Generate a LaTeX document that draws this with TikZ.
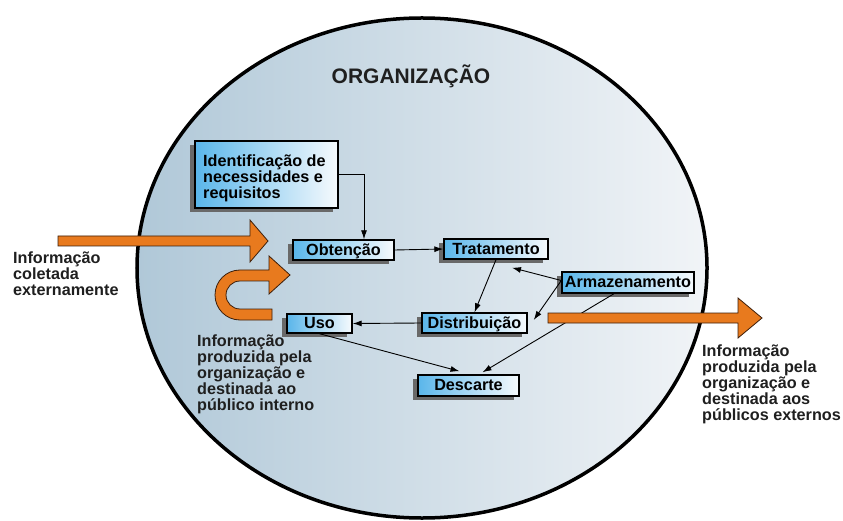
\documentclass[tikz,border=0pt]{standalone}
\usepackage{fontspec}
\setmainfont{Liberation Sans}
\usetikzlibrary{arrows.meta,calc,shadows}

\definecolor{ellL}{RGB}{176,200,216}
\definecolor{ellR}{RGB}{241,244,247}
\definecolor{boxL}{RGB}{90,182,234}
\definecolor{boxR}{RGB}{246,250,253}
\definecolor{orangeF}{RGB}{232,122,30}
\definecolor{orangeD}{RGB}{60,30,10}
\definecolor{shadowC}{RGB}{105,105,105}

\begin{document}
\begin{tikzpicture}[x=1bp,y=-1bp,
  stepbox/.style={draw=black, line width=1.4bp, left color=boxL, right color=boxR,
    inner sep=0pt, font=\fontsize{16.2bp}{16bp}\selectfont\bfseries,
    drop shadow={shadow xshift=-5bp, shadow yshift=-4bp, fill=shadowC, opacity=1}},
  onebox/.style={stepbox, text height=10.8bp, text depth=0bp},
  conn/.style={line width=0.9bp, -{Latex[length=9bp,width=6bp]}},
  orangearrow/.style={fill=orangeF, draw=orangeD, line width=0.8bp, line join=miter},
  sidetext/.style={inner sep=0pt, anchor=north west, align=left,
    font=\fontsize{16.2bp}{16bp}\selectfont\bfseries, text=black!88}
]
\useasboundingbox (0,0) rectangle (843,521);
\fill[white] (0,0) rectangle (843,521);

% organisation ellipse
\draw[line width=3.5bp, left color=ellL, right color=ellR]
  (422,268) ellipse [x radius=285bp, y radius=250bp];

\node[font=\fontsize{21bp}{21bp}\selectfont\bfseries, text=black!88, anchor=base, inner sep=0pt]
  (title) at (411,84) {ORGANIZAÇÃO};

% boxes
\node[stepbox, minimum width=143bp, minimum height=67bp] (ident) at (266.5,174.5) {};
\node[inner sep=0pt, anchor=north west, align=left, font=\fontsize{16.2bp}{15.8bp}\selectfont\bfseries]
  (identtxt) at (203,155) {Identificação de\\necessidades e\\requisitos};

\node[onebox, minimum width=101bp, minimum height=20bp] (obt)  at (343.5,250)   {Obtenção};
\node[onebox, minimum width=104bp, minimum height=20bp] (trat) at (496,249)     {Tratamento};
\node[onebox, minimum width=132bp, minimum height=21bp] (arm)  at (628,282.5)   {Armazenamento};
\node[onebox, minimum width=105bp, minimum height=20bp] (dist) at (474.5,323)   {Distribuição};
\node[onebox, minimum width=65bp,  minimum height=19bp] (uso)  at (319.5,323.5) {Uso};
\node[onebox, minimum width=101bp, minimum height=21bp] (desc) at (468.5,385.5) {Descarte};

% connectors
\draw[conn] (ident.east) -| ([xshift=20.5bp]obt.north);
\draw[conn] (obt.east) -- (trat.west);
\draw[conn] (trat.south) -- (dist.north);
\coordinate (armw) at ($(arm.west)+(0,-2)$);
\draw[conn] (armw) -- ($(trat.south)+(16,8)$);
\draw[conn] (armw) -- ($(dist.east)+(6,-3)$);
\draw[conn] (dist.west) -- (uso.east);
\draw[conn] (uso.south) -- ($(desc.north)+(-9,-3)$);
\draw[conn] ($(arm.south)+(-14,0)$) -- ($(desc.north)+(14,-2)$);

% orange arrows
\filldraw[orangearrow] (58,236) -- (250,236) -- (250,220) -- (268,241) -- (250,262)
  -- (250,246) -- (58,246) -- cycle;
\filldraw[orangearrow] (548,313) -- (738,313) -- (738,298) -- (762,318) -- (738,338)
  -- (738,323) -- (548,323) -- cycle;
\filldraw[orangearrow] (272,320) -- (240,320)
  .. controls (226.2,320) and (215,308.8) .. (215,295)
  .. controls (215,281.2) and (226.2,270) .. (240,270)
  -- (269,270) -- (269,256) -- (290,275) -- (269,294) -- (269,281) -- (240,281)
  .. controls (232.3,281) and (226,287.3) .. (226,295)
  .. controls (226,302.7) and (232.3,309) .. (240,309)
  -- (272,309) -- cycle;

% side texts
\node[sidetext] (extin) at (13,252) {Informação\\coletada\\externamente};
\node[sidetext] (intpub) at (197,335) {Informação\\produzida pela\\organização e\\destinada ao\\público interno};
\node[sidetext] (extout) at (702,345) {Informação\\produzida pela\\organização e\\destinada aos\\públicos externos};
\end{tikzpicture}
\end{document}
